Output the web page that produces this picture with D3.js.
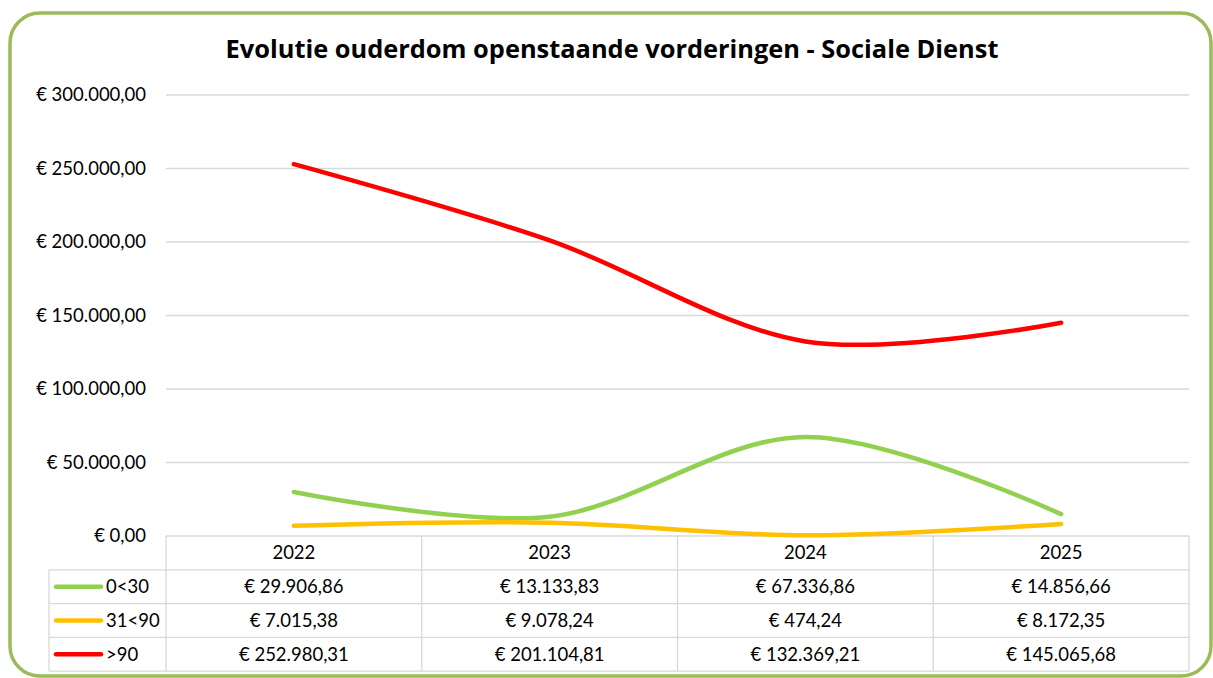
<!DOCTYPE html>
<html>
<head>
<meta charset="utf-8">
<script src="https://cdn.jsdelivr.net/npm/d3@7"></script>
<style>
  body { margin: 0; background: #fff; }
  svg { font-family: Lato, "Open Sans", sans-serif; }
</style>
</head>
<body>
<div id="chart"></div>
<script>
// chart data
const years = ["2022", "2023", "2024", "2025"];
const seriesNames = ["0<30", "31<90", ">90"];
const seriesColors = ["#92D050", "#FFC000", "#FF0000"];
const values0to30 = [29906.86, 13133.83, 67336.86, 14856.66];
const values31to90 = [7015.38, 9078.24, 474.24, 8172.35];
const valuesOver90 = [252980.31, 201104.81, 132369.21, 145065.68];
const yTicks = [0, 50000, 100000, 150000, 200000, 250000, 300000];

const series = [
    {name: seriesNames[0], color: seriesColors[0], values: values0to30},
    {name: seriesNames[1], color: seriesColors[1], values: values31to90},
    {name: seriesNames[2], color: seriesColors[2], values: valuesOver90}
];

const width = 1213, height = 678;
const plot = {left: 166, right: 1189, top: 95, bottom: 536};
const rowH = 33.8;
const legendLeft = 49;
const fs = 18.5;

const euro = d3.formatLocale({decimal: ",", thousands: ".", grouping: [3], currency: ["€ ", ""]}).format("$,.2f");

const svg = d3.select("#chart").append("svg")
    .attr("width", width)
    .attr("height", height);

// rounded green frame
svg.append("rect")
    .attr("x", 10).attr("y", 13)
    .attr("width", 1201).attr("height", 663)
    .attr("rx", 30)
    .attr("fill", "#fff")
    .attr("stroke", "#9BBB59")
    .attr("stroke-width", 3.5);

svg.append("text")
    .attr("x", 612).attr("y", 58)
    .attr("text-anchor", "middle")
    .attr("font-size", 25.4)
    .attr("font-weight", "bold")
    .attr("font-family", "'Open Sans', sans-serif")
    .attr("fill", "#000")
    .text("Evolutie ouderdom openstaande vorderingen - Sociale Dienst");

const x = d3.scaleBand().domain(years).range([plot.left, plot.right]).padding(0);
const y = d3.scaleLinear().domain([0, 300000]).range([plot.bottom, plot.top]);
const cx = d => x(d) + x.bandwidth() / 2;

// gridlines
svg.append("g")
    .selectAll("line")
    .data(yTicks.filter(d => d > 0))
    .join("line")
    .attr("x1", plot.left).attr("x2", plot.right)
    .attr("y1", d => y(d)).attr("y2", d => y(d))
    .attr("stroke", "#d9d9d9")
    .attr("stroke-width", 1.3);

// y axis labels
const yAxis = d3.axisLeft(y).tickValues(yTicks).tickFormat(euro).tickSize(0).tickPadding(20);
const yg = svg.append("g")
    .attr("transform", "translate(" + plot.left + ",0)")
    .call(yAxis);
yg.select(".domain").remove();
yg.selectAll("text")
    .attr("font-size", fs)
    .attr("fill", "#000")
    .attr("font-family", "Lato, sans-serif");

// data table grid
const tbl = svg.append("g").attr("stroke", "#d9d9d9").attr("stroke-width", 1.3);
const tableBottom = plot.bottom + rowH * 4;
tbl.append("line").attr("x1", plot.left).attr("x2", plot.right).attr("y1", plot.bottom).attr("y2", plot.bottom);
for (let i = 1; i <= 4; i++) {
    tbl.append("line")
        .attr("x1", legendLeft).attr("x2", plot.right)
        .attr("y1", plot.bottom + rowH * i).attr("y2", plot.bottom + rowH * i);
}
tbl.append("line").attr("x1", legendLeft).attr("x2", legendLeft).attr("y1", plot.bottom + rowH).attr("y2", tableBottom);
tbl.selectAll(".vline")
    .data(years.concat(["end"]))
    .join("line")
    .attr("class", "vline")
    .attr("x1", d => d === "end" ? plot.right : x(d))
    .attr("x2", d => d === "end" ? plot.right : x(d))
    .attr("y1", plot.bottom).attr("y2", tableBottom);

// header row
svg.append("g")
    .selectAll("text")
    .data(years)
    .join("text")
    .attr("x", d => cx(d))
    .attr("y", plot.bottom + rowH / 2 + 6.5)
    .attr("text-anchor", "middle")
    .attr("font-size", fs)
    .text(d => d);

// rows
series.forEach((s, i) => {
    const rowY = plot.bottom + rowH * (i + 1) + rowH / 2;
    svg.append("line")
        .attr("x1", 56).attr("x2", 101)
        .attr("y1", rowY).attr("y2", rowY)
        .attr("stroke", s.color)
        .attr("stroke-width", 4.5)
        .attr("stroke-linecap", "round");
    svg.append("text")
        .attr("x", 106).attr("y", rowY + 6.5)
        .attr("font-size", fs)
        .text(s.name);
    svg.append("g")
        .selectAll("text")
        .data(s.values)
        .join("text")
        .attr("x", (d, j) => cx(years[j]))
        .attr("y", rowY + 6.5)
        .attr("text-anchor", "middle")
        .attr("font-size", fs)
        .text(d => euro(d));
});

// smoothed lines
const line = d3.line()
    .x((d, j) => cx(years[j]))
    .y(d => y(d))
    .curve(d3.curveCardinal.tension(0));

svg.append("g")
    .selectAll("path")
    .data(series)
    .join("path")
    .attr("d", d => line(d.values))
    .attr("fill", "none")
    .attr("stroke", d => d.color)
    .attr("stroke-width", 4.5)
    .attr("stroke-linecap", "round");
</script>
</body>
</html>
